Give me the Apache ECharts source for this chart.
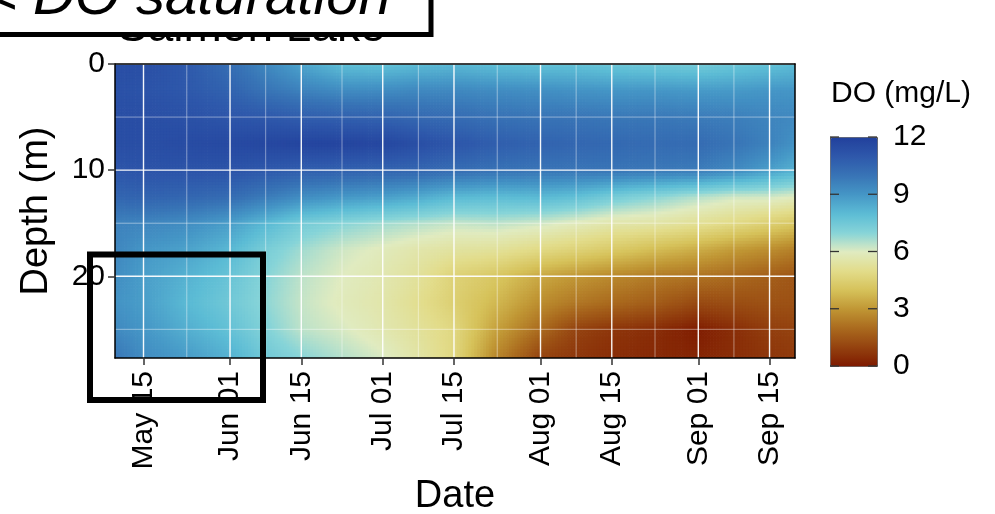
<!DOCTYPE html>
<html>
<head>
<meta charset="utf-8">
<script src="https://cdn.jsdelivr.net/npm/echarts@6/dist/echarts.min.js"></script>
<style>
  html, body { margin: 0; padding: 0; background: #ffffff; }
  #chart { width: 995px; height: 514px; }
</style>
</head>
<body>
<div id="chart"></div>
<script>
// Profile sampling dates (columns) and depths in metres (rows)
const sampleDates = ['2021-05-09', '2021-05-15', '2021-05-23', '2021-06-01', '2021-06-08', '2021-06-15',
  '2021-06-23', '2021-07-01', '2021-07-08', '2021-07-15', '2021-07-23', '2021-08-01', '2021-08-08',
  '2021-08-15', '2021-08-23', '2021-09-01', '2021-09-08', '2021-09-15', '2021-09-20'];
const depths = [0, 2.5, 5, 7.5, 10, 12.5, 15, 17.5, 20, 22.5, 25, 27.7];

// Dissolved oxygen (mg/L), one row per depth, one value per sampling date
const do0m    = [11.4, 11.4, 11.0, 10.2, 9.4, 8.6, 7.9, 7.8, 8.0, 8.1, 7.9, 7.8, 7.8, 7.6, 7.5, 7.4, 7.6, 7.8, 8.0];
const do2_5m  = [11.3, 11.2, 11.0, 10.6, 10.0, 9.6, 9.3, 9.3, 9.4, 9.4, 9.3, 9.2, 9.1, 9.0, 9.0, 8.9, 8.9, 9.0, 9.0];
const do5m    = [11.4, 11.4, 11.3, 11.1, 11.0, 10.8, 10.7, 10.6, 10.4, 10.3, 10.1, 10.0, 10.0, 9.9, 9.9, 9.8, 9.7, 9.5, 9.4];
const do7_5m  = [11.4, 11.4, 11.5, 11.6, 11.7, 11.8, 11.8, 11.7, 11.4, 11.1, 10.8, 10.6, 10.5, 10.4, 10.3, 10.3, 10.0, 9.6, 9.1];
const do10m   = [11.1, 11.2, 11.2, 11.2, 11.0, 10.8, 10.7, 10.6, 10.5, 10.3, 10.1, 10.0, 10.0, 10.0, 9.9, 9.8, 9.4, 8.8, 8.3];
const do12_5m = [10.5, 10.6, 10.5, 10.3, 9.8, 9.3, 9.0, 8.8, 8.5, 8.1, 8.0, 8.1, 7.9, 7.4, 7.0, 6.5, 6.2, 6.2, 6.0];
const do15m   = [9.6, 9.5, 9.3, 8.8, 8.1, 7.4, 7.0, 6.7, 6.5, 6.3, 6.4, 6.2, 5.9, 5.6, 5.5, 5.2, 4.9, 4.5, 4.2];
const do17_5m = [9.5, 9.0, 8.7, 8.1, 7.3, 6.7, 6.2, 5.9, 5.6, 5.4, 5.3, 4.9, 4.6, 4.3, 3.9, 3.5, 3.1, 2.8, 2.5];
const do20m   = [9.3, 8.8, 8.3, 7.7, 7.0, 6.4, 6.0, 5.7, 5.3, 4.6, 4.2, 3.4, 3.0, 2.7, 2.4, 2.2, 2.0, 1.7, 1.5];
const do22_5m = [9.1, 8.8, 8.1, 7.5, 6.9, 6.3, 5.9, 5.6, 5.1, 4.5, 3.8, 2.8, 2.3, 2.0, 1.7, 1.2, 1.3, 1.4, 1.4];
const do25m   = [9.4, 9.0, 8.4, 7.8, 7.1, 6.4, 6.1, 5.7, 5.3, 4.8, 3.3, 2.0, 1.0, 0.7, 0.5, 0.1, 0.5, 0.9, 1.0];
const do27_7m = [10.0, 9.3, 8.9, 8.3, 7.5, 7.0, 6.5, 6.1, 5.5, 4.8, 2.7, 1.0, 0.7, 0.5, 0.4, 0.3, 0.5, 0.7, 0.8];
const doRows = [do0m, do2_5m, do5m, do7_5m, do10m, do12_5m, do15m, do17_5m, do20m, do22_5m, do25m, do27_7m];

// Axis breaks
const tickDates = ['2021-05-15', '2021-06-01', '2021-06-15', '2021-07-01', '2021-07-15',
  '2021-08-01', '2021-08-15', '2021-09-01', '2021-09-15'];
const depthTicks = [0, 10, 20];
const legendTicks = [0, 3, 6, 9, 12];

// Colour ramp for DO 0 → 12 mg/L, evenly spaced
const doColors = ['#7e1900', '#94420f', '#aa6a1e', '#c09634', '#d6c25a', '#e2dc8a', '#e0ebc0',
  '#86d4d8', '#5cbcd5', '#4596c6', '#3874b6', '#2e58ab', '#22409c'];

const FONT = '"Liberation Sans", Arial, sans-serif';
const MONTHS = ['Jan', 'Feb', 'Mar', 'Apr', 'May', 'Jun', 'Jul', 'Aug', 'Sep', 'Oct', 'Nov', 'Dec'];
const ts = s => Date.parse(s.length > 10 ? s + 'Z' : s + 'T00:00:00Z');
const fmtDate = v => {
  const d = new Date(v);
  return MONTHS[d.getUTCMonth()] + ' ' + String(d.getUTCDate()).padStart(2, '0');
};

const rampRgb = doColors.map(h => [parseInt(h.slice(1, 3), 16), parseInt(h.slice(3, 5), 16), parseInt(h.slice(5, 7), 16)]);
function doColor(v) {
  const t = Math.max(0, Math.min(12, v)) / 12 * (rampRgb.length - 1);
  const i = Math.min(Math.floor(t), rampRgb.length - 2);
  const f = t - i;
  const a = rampRgb[i], b = rampRgb[i + 1];
  return 'rgb(' + Math.round(a[0] + (b[0] - a[0]) * f) + ',' +
    Math.round(a[1] + (b[1] - a[1]) * f) + ',' + Math.round(a[2] + (b[2] - a[2]) * f) + ')';
}

// Raster cells between neighbouring profile nodes
const cells = [];
for (let r = 0; r < depths.length - 1; r++) {
  for (let c = 0; c < sampleDates.length - 1; c++) {
    cells.push([ts(sampleDates[c]), ts(sampleDates[c + 1]), depths[r], depths[r + 1],
      doRows[r][c], doRows[r][c + 1], doRows[r + 1][c], doRows[r + 1][c + 1]]);
  }
}

// Major and minor grid lines (minor breaks halfway between major ones)
const tickTimes = tickDates.map(ts);
const gridLines = [];
tickTimes.forEach(t => gridLines.push([t, 0, 0, 1]));
for (let i = 0; i < tickTimes.length - 1; i++) gridLines.push([(tickTimes[i] + tickTimes[i + 1]) / 2, 0, 0, 0]);
const depthStep = depthTicks[1] - depthTicks[0];
depthTicks.forEach(d => {
  gridLines.push([tickTimes[0], d, 1, 1]);
  gridLines.push([tickTimes[0], d + depthStep / 2, 1, 0]);
});

const xMin = ts('2021-05-09T09:36:00');
const xMax = ts('2021-09-20T00:00:00');
const depthMax = depths[depths.length - 1];

const axisLineStyle = { color: '#000', width: 1.5 };

const chart = echarts.init(document.getElementById('chart'));
chart.setOption({
  animation: false,
  backgroundColor: '#ffffff',
  textStyle: { fontFamily: FONT },
  title: [
    { text: 'Salmon Lake', left: 117, top: 5, padding: 0,
      textStyle: { fontFamily: FONT, fontSize: 46, fontWeight: 'normal', color: '#000' } },
    { text: 'DO (mg/L)', left: 831, top: 79, padding: 0,
      textStyle: { fontFamily: FONT, fontSize: 30, fontWeight: 'normal', color: '#000' } }
  ],
  grid: [
    { left: 115, right: 200, top: 64, bottom: 156, outerBoundsMode: 'none', containLabel: false },
    { left: 830, top: 137, width: 47, height: 229, outerBoundsMode: 'none', containLabel: false }
  ],
  xAxis: [
    {
      type: 'value', gridIndex: 0, min: xMin, max: xMax, z: 10,
      name: 'Date', nameLocation: 'middle', nameGap: 114,
      nameTextStyle: { fontFamily: FONT, fontSize: 38, color: '#000' },
      axisLine: { show: true, onZero: false, lineStyle: axisLineStyle },
      axisTick: { show: true, length: 7, lineStyle: { color: '#333', width: 1.5 }, customValues: tickTimes },
      axisLabel: { rotate: 90, margin: 13, fontSize: 30, color: '#000', fontFamily: FONT,
        customValues: tickTimes, formatter: v => fmtDate(v) },
      splitLine: { show: false }
    },
    {
      type: 'value', gridIndex: 0, position: 'top', min: xMin, max: xMax, z: 10,
      axisLine: { show: true, onZero: false, lineStyle: axisLineStyle },
      axisTick: { show: false }, axisLabel: { show: false }, splitLine: { show: false }
    },
    { type: 'value', gridIndex: 1, min: 0, max: 1, show: false }
  ],
  yAxis: [
    {
      type: 'value', gridIndex: 0, inverse: true, min: 0, max: depthMax, z: 10,
      name: 'Depth (m)', nameLocation: 'middle', nameGap: 59,
      nameTextStyle: { fontFamily: FONT, fontSize: 38, color: '#000' },
      axisLine: { show: true, onZero: false, lineStyle: axisLineStyle },
      axisTick: { show: true, length: 7, lineStyle: { color: '#333', width: 1.5 }, customValues: depthTicks },
      axisLabel: { margin: 10, fontSize: 30, color: '#000', fontFamily: FONT, customValues: depthTicks,
        padding: [4, 0, 0, 0] },
      splitLine: { show: false }
    },
    {
      type: 'value', gridIndex: 0, position: 'right', inverse: true, min: 0, max: depthMax, z: 10,
      axisLine: { show: true, onZero: false, lineStyle: axisLineStyle },
      axisTick: { show: false }, axisLabel: { show: false }, splitLine: { show: false }
    },
    {
      type: 'value', gridIndex: 1, position: 'right', min: legendTicks[0],
      max: legendTicks[legendTicks.length - 1], interval: legendTicks[1] - legendTicks[0], z: 10,
      axisLine: { show: false, onZero: false },
      axisTick: { show: false },
      axisLabel: { margin: 16, fontSize: 30, color: '#000', fontFamily: FONT },
      splitLine: { show: false }
    }
  ],
  visualMap: {
    type: 'continuous', min: 0, max: 12, seriesIndex: 0, dimension: 4,
    left: 830, top: 137, itemWidth: 47, itemHeight: 229, padding: 0,
    calculable: false, text: null, hoverLink: false,
    borderColor: '#555', borderWidth: 1,
    inRange: { color: doColors }
  },
  series: [
    {
      type: 'custom', name: 'DO', xAxisIndex: 0, yAxisIndex: 0, clip: true, z: 2, silent: true,
      encode: { x: [0, 1], y: [2, 3] },
      data: cells,
      renderItem(params, api) {
        const p0 = api.coord([api.value(0), api.value(2)]);
        const p1 = api.coord([api.value(1), api.value(3)]);
        const v00 = api.value(4), v01 = api.value(5), v10 = api.value(6), v11 = api.value(7);
        const w = p1[0] - p0[0], h = p1[1] - p0[1];
        const nx = Math.max(1, Math.ceil(Math.abs(w) / 3));
        const ny = Math.max(1, Math.ceil(Math.abs(h) / 3));
        const children = [];
        for (let i = 0; i < nx; i++) {
          const u = (i + 0.5) / nx;
          for (let j = 0; j < ny; j++) {
            const v = (j + 0.5) / ny;
            const val = v00 * (1 - u) * (1 - v) + v01 * u * (1 - v) + v10 * (1 - u) * v + v11 * u * v;
            children.push({
              type: 'rect',
              shape: { x: p0[0] + i * w / nx, y: p0[1] + j * h / ny, width: w / nx + 0.7, height: h / ny + 0.7 },
              style: { fill: doColor(val) }
            });
          }
        }
        return { type: 'group', children };
      }
    },
    {
      type: 'custom', name: 'grid', xAxisIndex: 0, yAxisIndex: 0, clip: true, z: 3, silent: true,
      encode: { x: 0, y: 1 },
      data: gridLines,
      renderItem(params, api) {
        const cs = params.coordSys;
        const p = api.coord([api.value(0), api.value(1)]);
        const vertical = api.value(2) === 0;
        const major = api.value(3) === 1;
        const shape = vertical
          ? { x1: p[0], y1: cs.y, x2: p[0], y2: cs.y + cs.height }
          : { x1: cs.x, y1: p[1], x2: cs.x + cs.width, y2: p[1] };
        return {
          type: 'line', shape,
          style: { stroke: major ? 'rgba(255,255,255,0.95)' : 'rgba(255,255,255,0.55)', lineWidth: major ? 1.4 : 0.8 }
        };
      }
    },
    {
      // Colour-bar tick marks on both edges of the bar
      type: 'custom', name: 'legendTicks', xAxisIndex: 2, yAxisIndex: 2, z: 6, silent: true,
      encode: { y: 0 },
      data: legendTicks.map(v => [v]),
      renderItem(params, api) {
        const cs = params.coordSys;
        const y = api.coord([0, api.value(0)])[1];
        const len = 9;
        const st = { stroke: '#333', lineWidth: 1.3 };
        return {
          type: 'group', children: [
            { type: 'line', shape: { x1: cs.x, y1: y, x2: cs.x + len, y2: y }, style: st },
            { type: 'line', shape: { x1: cs.x + cs.width - len, y1: y, x2: cs.x + cs.width, y2: y }, style: st }
          ]
        };
      }
    }
  ],
  graphic: [
    {
      type: 'rect', z: 100, silent: true,
      shape: { x: -10, y: -10, width: 441, height: 44.5 },
      style: { fill: '#ffffff', stroke: '#000', lineWidth: 5 }
    },
    {
      type: 'text', z: 101, silent: true, x: -17, y: 27,
      style: { text: '< DO saturation', font: 'italic 58px ' + FONT, fill: '#000', verticalAlign: 'bottom' }
    },
    {
      type: 'rect', z: 100, silent: true,
      shape: { x: 90, y: 254.5, width: 173, height: 145.5 },
      style: { fill: 'none', stroke: '#000', lineWidth: 6 }
    }
  ]
});
</script>
</body>
</html>
